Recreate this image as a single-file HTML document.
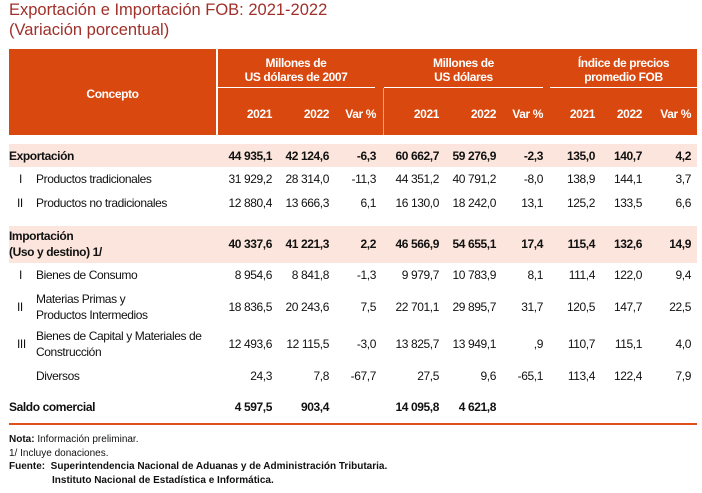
<!DOCTYPE html>
<html><head><meta charset="utf-8"><style>
body{margin:0;width:702px;height:493px;background:#fff;position:relative;overflow:hidden;font-family:"Liberation Sans",sans-serif;}
.t{position:absolute;font-size:16.5px;color:#a0302a;left:9px;}
.a{position:absolute;white-space:nowrap;font-size:12px;letter-spacing:-0.4px;color:#111;line-height:14px;}
.r{text-align:right;}
.b{font-weight:bold;}
.w{color:#fff;font-weight:bold;text-align:center;}
.f{position:absolute;font-size:10px;color:#111;left:9px;white-space:nowrap;}
</style></head><body>
<div class="t" style="top:1px">Exportación e Importación FOB: 2021-2022</div>
<div class="t" style="top:21px">(Variación porcentual)</div>
<div style="position:absolute;left:9px;top:49px;width:688px;height:86px;background:#d9480f"></div>
<div style="position:absolute;left:216px;top:49px;width:2px;height:86px;background:#fff"></div>
<div style="position:absolute;left:383px;top:88px;width:1px;height:47px;background:#f2a07a"></div>
<div style="position:absolute;left:217px;top:87px;width:158px;height:1px;background:#fff"></div>
<div style="position:absolute;left:384px;top:87px;width:159px;height:1px;background:#fff"></div>
<div style="position:absolute;left:550px;top:87px;width:147px;height:1px;background:#fff"></div>
<div class="a w" style="left:9px;width:207px;top:87px">Concepto</div>
<div class="a w" style="left:217px;width:158px;top:56px">Millones de<br>US dólares de 2007</div>
<div class="a w" style="left:384px;width:159px;top:56px">Millones de<br>US dólares</div>
<div class="a w" style="left:550px;width:147px;top:56px">Índice de precios<br>promedio FOB</div>
<div style="position:absolute;left:9px;top:144px;width:688px;height:23px;background:#fbe5dc"></div>
<div style="position:absolute;left:9px;top:226px;width:688px;height:37px;background:#fbe5dc"></div>
<div style="position:absolute;left:9px;top:423px;width:688px;height:2px;background:#e0501a"></div>
<div id="g"></div>
<script>
var R=[272,329,376,439,496,543,595,642,691];
function row(y,v,bold,color){v.forEach(function(s,i){var d=document.createElement('div');d.className='a r'+(bold?' b':'');d.style.cssText='left:'+(R[i]-80)+'px;width:80px;top:'+y+'px;'+(color?'color:'+color:'');d.textContent=s;document.body.appendChild(d);});}
function lab(x,y,s,bold){var d=document.createElement('div');d.className='a'+(bold?' b':'');d.style.cssText='left:'+x+'px;top:'+y+'px';d.innerHTML=s;document.body.appendChild(d);}
row(107,['2021','2022','Var %','2021','2022','Var %','2021','2022','Var %'],1,'#fff');
lab(9,149,'Exportación',1);row(149,['44 935,1','42 124,6','-6,3','60 662,7','59 276,9','-2,3','135,0','140,7','4,2'],1);
lab(19,172,'I');lab(36,172,'Productos tradicionales');row(172,['31 929,2','28 314,0','-11,3','44 351,2','40 791,2','-8,0','138,9','144,1','3,7']);
lab(17,196,'II');lab(36,196,'Productos no tradicionales');row(196,['12 880,4','13 666,3','6,1','16 130,0','18 242,0','13,1','125,2','133,5','6,6']);
lab(9,229,'Importación',1);lab(9,245,' (Uso y destino) 1/',1);row(237,['40 337,6','41 221,3','2,2','46 566,9','54 655,1','17,4','115,4','132,6','14,9'],1);
lab(19,268,'I');lab(36,268,'Bienes de Consumo');row(268,['8 954,6','8 841,8','-1,3','9 979,7','10 783,9','8,1','111,4','122,0','9,4']);
lab(17,300,'II');lab(36,292,'Materias Primas y');lab(36,308,'Productos Intermedios');row(300,['18 836,5','20 243,6','7,5','22 701,1','29 895,7','31,7','120,5','147,7','22,5']);
lab(17,337,'III');lab(36,329,'Bienes de Capital y Materiales de');lab(36,345,'Construcción');row(337,['12 493,6','12 115,5','-3,0','13 825,7','13 949,1',',9','110,7','115,1','4,0']);
lab(36,369,'Diversos');row(369,['24,3','7,8','-67,7','27,5','9,6','-65,1','113,4','122,4','7,9']);
lab(9,400,'Saldo comercial',1);row(400,['4 597,5','903,4','','14 095,8','4 621,8','','','',''],1);
</script>
<div class="f" style="top:434px"><b>Nota:</b> Información preliminar.</div>
<div class="f" style="top:448px">1/ Incluye donaciones.</div>
<div class="f" style="top:461px"><b>Fuente:&nbsp; Superintendencia Nacional de Aduanas y de Administración Tributaria.</b></div>
<div class="f" style="top:475px;left:52px"><b>Instituto Nacional de Estadística e Informática.</b></div>
</body></html>
